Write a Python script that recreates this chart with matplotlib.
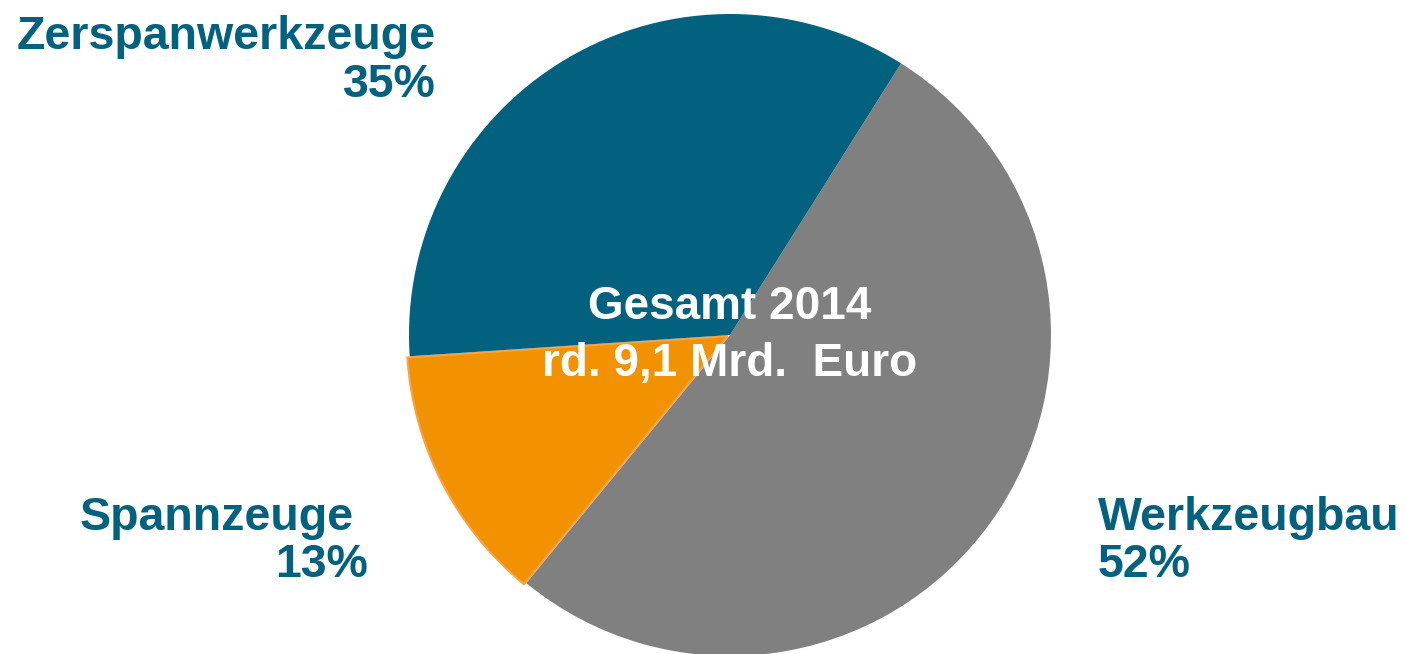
import matplotlib.pyplot as plt

labels = ['Werkzeugbau', 'Spannzeuge', 'Zerspanwerkzeuge']
shares = [52, 13, 35]
colors = ['#808080', '#F39200', '#02617F']
center_lines = ['Gesamt 2014', 'rd. 9,1 Mrd.  Euro']

plt.rcParams['font.family'] = ['Liberation Sans', 'DejaVu Sans']
label_color = '#02617F'

W, H = 1405, 654
fig = plt.figure(figsize=(W / 100, H / 100), dpi=100)

# pie centre and radius in pixels
cx, cy, r = 730, 335, 321
ax = fig.add_axes([(cx - r) / W, (H - cy - r) / H, 2 * r / W, 2 * r / H])
wedges, _ = ax.pie(shares, colors=colors, startangle=57.8, counterclock=False,
                   radius=1, explode=[0, 0.008, 0],
                   wedgeprops=dict(linewidth=0))
wedges[1].set_edgecolor('#F7A347')
wedges[1].set_linewidth(1.5)
ax.set_xlim(-1, 1)
ax.set_ylim(-1, 1)
ax.set_aspect('equal')
ax.axis('off')


def px_text(x, y, s, ha, fs, color):
    fig.text(x / W, 1 - y / H, s, ha=ha, va='baseline', color=color,
             fontsize=fs, fontweight='bold')


# centre text
px_text(730, 319, center_lines[0], 'center', 33, 'white')
px_text(730, 376, center_lines[1], 'center', 33, 'white')

fs = 33.5
px_text(436, 49, labels[2], 'right', fs, label_color)
px_text(436, 97, f'{shares[2]}%', 'right', fs, label_color)
px_text(354, 530, labels[1], 'right', fs, label_color)
px_text(368, 577, f'{shares[1]}%', 'right', fs, label_color)
px_text(1098, 530, labels[0], 'left', fs, label_color)
px_text(1098, 577, f'{shares[0]}%', 'left', fs, label_color)

fig.savefig('out.png', dpi=100)
